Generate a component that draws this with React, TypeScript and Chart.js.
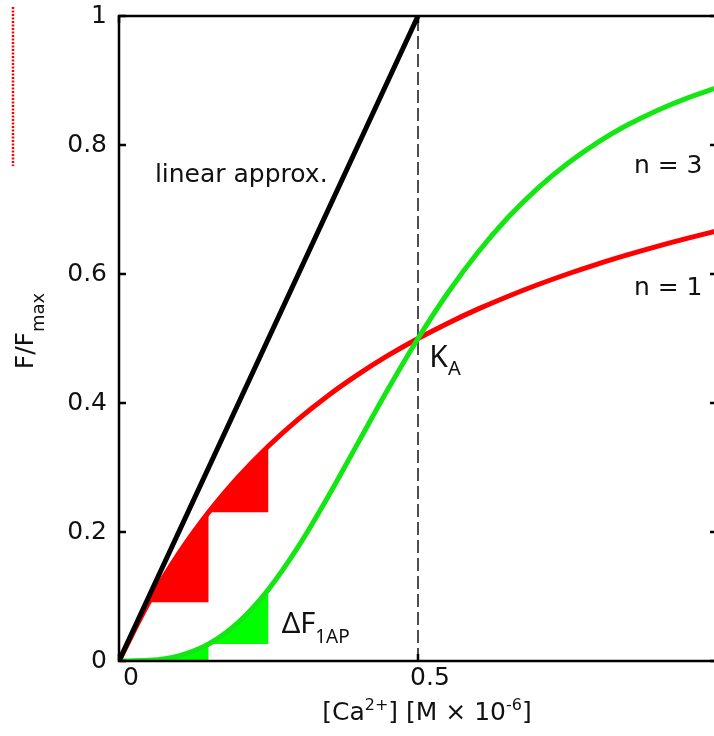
import React, { useEffect, useRef } from 'react';
import { Chart, registerables } from 'chart.js';

Chart.register(...registerables);

// [Ca2+] values (x axis, M × 10^-6)
const caX = [0, 0.05, 0.1, 0.15, 0.2, 0.25, 0.3, 0.35, 0.4, 0.45, 0.5, 0.55, 0.6, 0.65, 0.7, 0.75, 0.8, 0.85, 0.9, 0.95, 1.0];
// n = 1 curve (red)
const fN1 = [0, 0.0909, 0.1667, 0.2308, 0.2857, 0.3333, 0.375, 0.4118, 0.4444, 0.4737, 0.5, 0.5238, 0.5455, 0.5652, 0.5833, 0.6, 0.6154, 0.6296, 0.6429, 0.6552, 0.6667];
// n = 3 curve (green)
const fN3 = [0, 0.001, 0.0079, 0.0263, 0.0602, 0.1111, 0.1776, 0.2554, 0.3386, 0.4216, 0.5, 0.571, 0.6334, 0.6872, 0.7329, 0.7714, 0.8038, 0.8309, 0.8536, 0.8728, 0.8889];
// linear approximation
const linX = [0, 0.5];
const linY = [0, 1];
// K_A marker (dashed)
const kaX = [0.5, 0.5];
const kaY = [0, 1];
// step index ranges in caX (ΔF per action potential)
const stepRanges = [[1, 3], [3, 5]];
// ticks
const xTicks = [0, 0.5, 1];
const xTickLabels = ['0', '0.5', '1'];
const yTicks = [0, 0.2, 0.4, 0.6, 0.8, 1];
const yTickLabels = ['0', '0.2', '0.4', '0.6', '0.8', '1'];

const RED = '#ff0000';
const GREEN_LINE = '#14e614';
const GREEN_FILL = '#00ff00';
const TXT = '#111111';
const FONT = "'DejaVu Sans'";
const FONT2 = "'Noto Sans'";

type Seg = { t: string; size: number; dy?: number; fam?: string };

function drawRich(ctx: CanvasRenderingContext2D, segs: Seg[], x: number, y: number, fam: string, align: 'left' | 'center') {
  const widths = segs.map((s) => {
    ctx.font = `${s.size}px ${s.fam || fam}`;
    return ctx.measureText(s.t).width;
  });
  const total = widths.reduce((a, b) => a + b, 0);
  let cx = align === 'center' ? x - total / 2 : x;
  segs.forEach((s, i) => {
    ctx.font = `${s.size}px ${s.fam || fam}`;
    ctx.fillText(s.t, cx, y + (s.dy || 0));
    cx += widths[i];
  });
}

const framePlugin = {
  id: 'framePlugin',
  afterDraw(chart: any) {
    const { ctx, chartArea: a, scales } = chart;
    const x = scales.x;
    const y = scales.y;
    ctx.save();
    // frame
    ctx.strokeStyle = '#000';
    ctx.lineWidth = 2.5;
    ctx.setLineDash([]);
    ctx.strokeRect(a.left, a.top, a.right - a.left, a.bottom - a.top);
    // inward ticks
    const tl = 7;
    ctx.beginPath();
    y.ticks.forEach((t: any) => {
      const py = y.getPixelForValue(t.value);
      ctx.moveTo(a.left, py);
      ctx.lineTo(a.left + tl, py);
      ctx.moveTo(a.right, py);
      ctx.lineTo(a.right - tl, py);
    });
    x.ticks.forEach((t: any) => {
      const px = x.getPixelForValue(t.value);
      ctx.moveTo(px, a.bottom);
      ctx.lineTo(px, a.bottom - tl);
      ctx.moveTo(px, a.top);
      ctx.lineTo(px, a.top + tl);
    });
    ctx.stroke();

    // red dotted artifact line at far left
    ctx.strokeStyle = '#ff0000';
    ctx.lineWidth = 2.5;
    ctx.setLineDash([2, 1.5]);
    ctx.beginPath();
    ctx.moveTo(13, 7);
    ctx.lineTo(13, 166);
    ctx.stroke();
    ctx.setLineDash([]);

    ctx.fillStyle = TXT;
    ctx.textBaseline = 'alphabetic';
    ctx.textAlign = 'left';

    // annotations (positioned in data coordinates)
    drawRich(ctx, [{ t: 'linear approx.', size: 25 }], x.getPixelForValue(0.06), y.getPixelForValue(0.743), FONT, 'left');
    drawRich(ctx, [{ t: 'n = 3', size: 25 }], x.getPixelForValue(0.861), y.getPixelForValue(0.757), FONT, 'left');
    drawRich(ctx, [{ t: 'n = 1', size: 25 }], x.getPixelForValue(0.861), y.getPixelForValue(0.568), FONT, 'left');
    drawRich(ctx, [{ t: 'K', size: 30 }, { t: 'A', size: 20, dy: 8 }], x.getPixelForValue(0.519), y.getPixelForValue(0.456), FONT2, 'left');
    drawRich(ctx, [{ t: 'ΔF', size: 29 }, { t: '1AP', size: 19, dy: 10 }], x.getPixelForValue(0.272), y.getPixelForValue(0.043), FONT2, 'left');

    // x axis title
    drawRich(
      ctx,
      [
        { t: '[Ca', size: 25 },
        { t: '2+', size: 16, dy: -10 },
        { t: '] [M × 10', size: 25 },
        { t: '-6', size: 16, dy: -10 },
        { t: ']', size: 25 },
      ],
      x.getPixelForValue(0.515),
      720,
      FONT,
      'center'
    );

    // y axis title (rotated)
    ctx.translate(33, 331);
    ctx.rotate(-Math.PI / 2);
    drawRich(ctx, [{ t: 'F/F', size: 25 }, { t: 'max', size: 18, dy: 11 }], 0, 0, FONT, 'center');
    ctx.restore();
  },
};

const pts = (xs: number[], ys: number[]) => xs.map((v, i) => ({ x: v, y: ys[i] }));

export default function App() {
  const ref = useRef<HTMLCanvasElement | null>(null);
  useEffect(() => {
    if (!ref.current) return;
    const stepSets: any[] = [];
    stepRanges.forEach(([s, e]) => {
      stepSets.push({
        data: pts(caX.slice(s, e + 1), fN1.slice(s, e + 1)),
        borderWidth: 0,
        borderColor: RED,
        backgroundColor: RED,
        fill: { value: fN1[s] },
        pointRadius: 0,
        cubicInterpolationMode: 'monotone',
        order: 4,
      });
      stepSets.push({
        data: pts(caX.slice(s, e + 1), fN3.slice(s, e + 1)),
        borderWidth: 0,
        borderColor: GREEN_FILL,
        backgroundColor: GREEN_FILL,
        fill: { value: fN3[s] },
        pointRadius: 0,
        cubicInterpolationMode: 'monotone',
        order: 4,
      });
    });
    const chart = new Chart(ref.current, {
      type: 'line',
      data: {
        datasets: [
          {
            label: 'linear approx.',
            data: pts(linX, linY),
            borderColor: '#000',
            borderWidth: 5,
            pointRadius: 0,
            fill: false,
            order: 1,
          },
          {
            label: 'n = 3',
            data: pts(caX, fN3),
            borderColor: GREEN_LINE,
            borderWidth: 5,
            pointRadius: 0,
            fill: false,
            cubicInterpolationMode: 'monotone',
            order: 2,
          },
          {
            label: 'n = 1',
            data: pts(caX, fN1),
            borderColor: RED,
            borderWidth: 5,
            pointRadius: 0,
            fill: false,
            cubicInterpolationMode: 'monotone',
            order: 3,
          },
          ...stepSets,
          {
            label: 'K_A',
            data: pts(kaX, kaY),
            borderColor: '#222',
            borderWidth: 1.6,
            borderDash: [13, 5],
            pointRadius: 0,
            fill: false,
            order: 5,
          },
        ],
      },
      options: {
        animation: false,
        responsive: true,
        maintainAspectRatio: false,
        layout: { padding: { top: 16, right: 43, left: 0, bottom: 0 } },
        plugins: { legend: { display: false }, tooltip: { enabled: false } },
        scales: {
          x: {
            type: 'linear',
            min: 0,
            max: 1,
            grid: { display: false, drawTicks: false },
            border: { display: false },
            afterBuildTicks: (s: any) => {
              s.ticks = xTicks.map((v) => ({ value: v }));
            },
            afterFit: (s: any) => {
              s.height = 75;
              s.paddingLeft = 0;
              s.paddingRight = 0;
            },
            ticks: {
              autoSkip: false,
              maxRotation: 0,
              padding: 2,
              labelOffset: 12,
              color: TXT,
              font: { family: 'DejaVu Sans', size: 25 },
              callback: (v: any) => xTickLabels[xTicks.indexOf(Number(v))] ?? '',
            },
          },
          y: {
            type: 'linear',
            min: 0,
            max: 1,
            grid: { display: false, drawTicks: false },
            border: { display: false },
            afterBuildTicks: (s: any) => {
              s.ticks = yTicks.map((v) => ({ value: v }));
            },
            afterFit: (s: any) => {
              s.width = 119;
              s.paddingTop = 0;
              s.paddingBottom = 0;
            },
            ticks: {
              autoSkip: false,
              padding: 12,
              color: TXT,
              font: { family: 'DejaVu Sans', size: 25 },
              callback: (v: any) => yTickLabels[yTicks.indexOf(Number(v))] ?? '',
            },
          },
        },
      },
      plugins: [framePlugin],
    } as any);
    return () => chart.destroy();
  }, []);

  return (
    <div style={{ position: 'fixed', left: 0, top: 0, width: 714, height: 736, overflow: 'hidden', background: '#fff' }}>
      <div style={{ position: 'relative', width: 760, height: 736 }}>
        <canvas ref={ref} />
      </div>
    </div>
  );
}
